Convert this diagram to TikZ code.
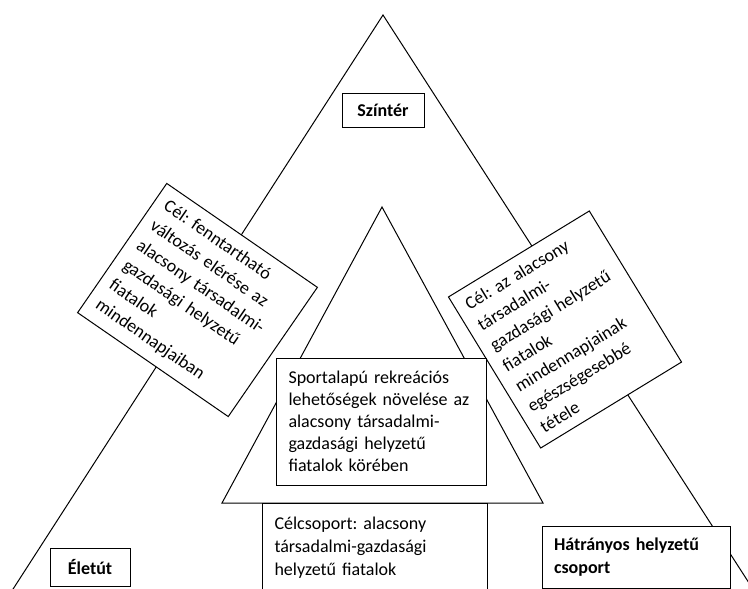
\documentclass[tikz,border=0pt]{standalone}
\usepackage{fontspec}
\setmainfont{Carlito}
\usetikzlibrary{positioning}
\frenchspacing

\begin{document}
\begin{tikzpicture}[x=1pt,y=-1pt,line width=1pt,
    box/.style={draw,fill=white,align=left,inner ysep=0pt,font=\fontsize{18}{24}\selectfont},
    label box/.style={box,font=\fontsize{18}{23}\selectfont\bfseries}]
  \clip (0,0) rectangle (748,589);
  \fill[white] (0,0) rectangle (748,589);

  \coordinate (apex) at (383,15);
  \coordinate (left foot) at (6,600);
  \coordinate (right foot) at (760,600);
  \coordinate (inner apex) at (382,207);
  \coordinate (inner left) at (222,503);
  \coordinate (inner right) at (543,503);

  \draw (left foot) -- (apex) -- (right foot);
  \draw (inner left) -- (inner apex) -- (inner right) -- cycle;

  \node[label box, align=center, minimum width=82pt, minimum height=34pt] (scene) at (383,110) {Színtér};
  \node[box, rotate=-34.6, text width=161pt, inner xsep=11pt, minimum height=157pt] (goal left) at (197.5,300)
    {Cél: fenntartható\\változás elérése az\\alacsony társadalmi-\\gazdasági helyzetű\\fiatalok\\mindennapjaiban};
  \node[box, rotate=31.4, text width=143pt, inner xsep=11pt, minimum height=177pt] (goal right) at (565,329.5)
    {Cél: az alacsony\\társadalmi-\\gazdasági helyzetű\\fiatalok\\mindennapjainak\\egészségesebbé\\tétele};
  \node[box, font=\fontsize{18}{22}\selectfont, text width=185pt, inner xsep=12.5pt, minimum height=127pt] (sport) at (381,421.5)
    {Sportalapú rekreációs\\lehetőségek növelése az\\alacsony társadalmi-\\gazdasági helyzetű\\fiatalok körében};
  \node[box, font=\fontsize{18}{23}\selectfont, anchor=north west, text width=201pt, inner xsep=12pt, inner ysep=13pt] (target) at (262,503)
    {Célcsoport: alacsony\\társadalmi-gazdasági\\helyzetű fiatalok};
  \node[label box, align=center, minimum width=80pt, minimum height=38pt] (life) at (90,567) {Életút};
  \node[label box, text width=164pt, inner xsep=12pt, minimum height=62pt] (group) at (636,557)
    {Hátrányos helyzetű\\csoport};
\end{tikzpicture}
\end{document}
